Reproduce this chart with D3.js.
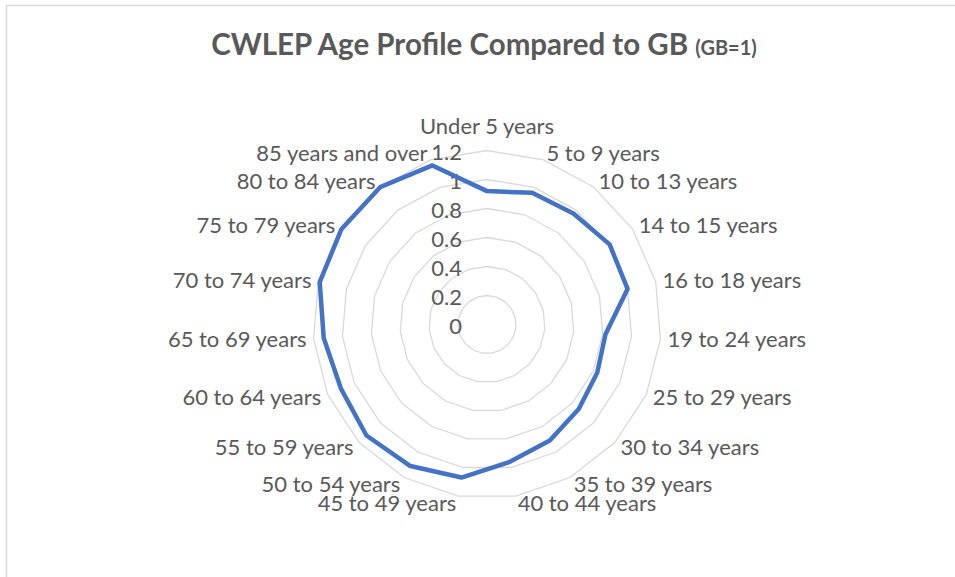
<!DOCTYPE html>
<html>
<head>
<meta charset="utf-8">
<script src="https://cdn.jsdelivr.net/npm/d3@7/dist/d3.min.js"></script>
<style>
	body { margin: 0; background: #fff; }
	svg text { font-family: Lato, "Open Sans", sans-serif; fill: #595959; }
</style>
</head>
<body>
<svg id="chart" width="955" height="577"></svg>
<script>
// Age groups, clockwise from the top.
var categories = [
	'Under 5 years', '5 to 9 years', '10 to 13 years', '14 to 15 years', '16 to 18 years',
	'19 to 24 years', '25 to 29 years', '30 to 34 years', '35 to 39 years', '40 to 44 years',
	'45 to 49 years', '50 to 54 years', '55 to 59 years', '60 to 64 years', '65 to 69 years',
	'70 to 74 years', '75 to 79 years', '80 to 84 years', '85 years and over'
];

// CWLEP share of each age group relative to GB (GB = 1).
var ratios = [
	0.92, 0.96, 0.97, 1.01, 1.0,
	0.82, 0.83, 0.86, 0.91, 0.96,
	1.07, 1.11, 1.13, 1.1, 1.13,
	1.19, 1.2, 1.2, 1.16
];

var tickValues = [0, 0.2, 0.4, 0.6, 0.8, 1, 1.2];
var tickLabels = ['0', '0.2', '0.4', '0.6', '0.8', '1', '1.2'];

var svg = d3.select('#chart');
var cx = 487, cy = 324.5;
var r = d3.scaleLinear().domain([0, 1.2]).range([0, 174]);
var angle = d3.scaleLinear().domain([0, categories.length]).range([0, 2 * Math.PI]);

// Chart area border (it runs off the right and bottom of the picture).
svg.append('rect')
	.attr('x', 6.5).attr('y', 5.5)
	.attr('width', 970).attr('height', 600)
	.attr('fill', 'none')
	.attr('stroke', '#d9d9d9')
	.attr('stroke-width', 1.5);

// Title, with the smaller "(GB=1)" part.
var title = svg.append('text')
	.attr('x', 484).attr('y', 55)
	.attr('text-anchor', 'middle')
	.style('font-weight', 'bold');
title.append('tspan').style('font-size', '29.5px').text('CWLEP Age Profile Compared to GB ');
title.append('tspan').style('font-size', '20px').text('(GB=1)');

var g = svg.append('g').attr('transform', 'translate(' + cx + ',' + cy + ')');

function point(i, value) {
	var a = angle(i);
	return [Math.sin(a) * r(value), -Math.cos(a) * r(value)];
}

// Polygon gridlines, one per tick.
var ring = d3.line().curve(d3.curveLinearClosed);
g.selectAll('.ring')
	.data(tickValues.slice(1))
	.enter().append('path')
	.attr('class', 'ring')
	.attr('d', function(v) {
		return ring(categories.map(function(c, i) { return point(i, v); }));
	})
	.attr('fill', 'none')
	.attr('stroke', '#d9d9d9')
	.attr('stroke-width', 1.3);

// Value axis labels along the top spoke.
g.selectAll('.tick-label')
	.data(tickValues)
	.enter().append('text')
	.attr('class', 'tick-label')
	.attr('x', -25)
	.attr('y', function(v) { return -r(v) + 2; })
	.attr('dy', '0.35em')
	.attr('text-anchor', 'end')
	.style('font-size', '22px')
	.text(function(v, i) { return tickLabels[i]; });

// Category labels just outside the outer ring. The gap shrinks near the bottom,
// where the labels sit below the ring instead of beside it.
g.selectAll('.cat-label')
	.data(categories)
	.enter().append('text')
	.attr('class', 'cat-label')
	.each(function(c, i) {
		var a = angle(i);
		var s = Math.sin(a), k = Math.cos(a);
		var p = point(i, 1.2);
		var pad = 1 + 6 * Math.abs(s);
		var label = d3.select(this);
		if (Math.abs(s) < 0.01) {
			label.attr('x', p[0]).attr('y', p[1] - k * 24).attr('text-anchor', 'middle');
		} else {
			label.attr('x', p[0] + (s > 0 ? pad : -pad))
				.attr('y', p[1] - k * 7.5)
				.attr('text-anchor', s > 0 ? 'start' : 'end');
		}
	})
	.attr('dy', '0.35em')
	.style('font-size', '22px')
	.text(function(c) { return c; });

// The data series.
g.append('path')
	.datum(ratios)
	.attr('d', function(d) {
		return ring(d.map(function(v, i) { return point(i, v); }));
	})
	.attr('fill', 'none')
	.attr('stroke', '#4472c4')
	.attr('stroke-width', 4.5)
	.attr('stroke-linejoin', 'round');
</script>
</body>
</html>
